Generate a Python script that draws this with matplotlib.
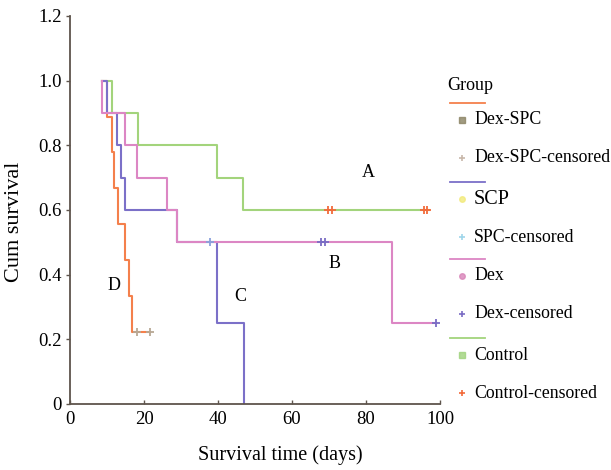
import numpy as np
import matplotlib
matplotlib.use('Agg')
import matplotlib.pyplot as plt
from matplotlib.lines import Line2D

plt.rcParams['font.family'] = ['Liberation Serif', 'DejaVu Serif']

# Kaplan-Meier steps: event times (days) and survival after each event
start_day = 8.7

dexspc_times = [10.0, 11.3, 11.9, 12.9, 14.9, 16.0, 16.8]
dexspc_surv = [0.889, 0.778, 0.667, 0.556, 0.444, 0.333, 0.222]
dexspc_end = 21.6
dexspc_cens = [18.2, 21.6]

scp_times = [9.9, 12.8, 13.8, 14.9, 29.0, 39.8, 46.9]
scp_surv = [0.9, 0.8, 0.7, 0.6, 0.5, 0.25, 0.0]
scp_end = 46.9
scp_cens = [37.8]

dex_times = [8.7, 14.9, 18.0, 26.1, 29.0, 86.9]
dex_surv = [0.9, 0.8, 0.7, 0.6, 0.5, 0.25]
dex_end = 98.8
dex_cens = [67.8, 69.0, 98.8]

ctrl_times = [11.4, 18.4, 39.8, 46.8]
ctrl_surv = [0.9, 0.8, 0.7, 0.6]
ctrl_end = 97.0
ctrl_cens = [69.8, 70.8, 95.6, 96.6]

letters = ['A', 'B', 'C', 'D']
letter_x = [80.5, 71.6, 45.9, 11.9]
letter_y = [0.717, 0.436, 0.331, 0.368]

c_orange = '#f4804c'
c_blue = '#7b70c8'
c_pink = '#dc86c4'
c_green = '#a3d47c'


def km_xy(times, surv, end):
    x = [start_day] + list(times) + [end]
    y = [1.0] + list(surv) + [surv[-1]]
    return x, y


def surv_at(times, surv, t):
    s = 1.0
    for ti, si in zip(times, surv):
        if ti <= t:
            s = si
    return s


W, H = 611, 470
fig = plt.figure(figsize=(W / 100, H / 100), dpi=100)
ax = fig.add_axes([70 / W, 1 - 404 / H, 370 / W, 388 / H])


def px(x, y):
    return x / W, 1 - y / H


groups = [
    (dexspc_times, dexspc_surv, dexspc_end, dexspc_cens, c_orange, '#b8a894'),
    (ctrl_times, ctrl_surv, ctrl_end, ctrl_cens, c_green, '#f26a3a'),
    (scp_times, scp_surv, scp_end, scp_cens, c_blue, '#8aa0dc'),
    (dex_times, dex_surv, dex_end, dex_cens, c_pink, '#7a6cc4'),
]
for times, surv, end, cens, col, ccol in groups:
    x, y = km_xy(times, surv, end)
    ax.step(x, y, where='post', color=col, lw=1.5)
for times, surv, end, cens, col, ccol in groups:
    cy = [surv_at(times, surv, c) for c in cens]
    ax.plot(cens, cy, ls='none', marker='+', ms=6, mew=1.3, color=ccol)

for lab, lx, ly in zip(letters, letter_x, letter_y):
    ax.text(lx, ly, lab, fontsize=13, ha='center', va='center')

ax.set_xlim(0, 100)
ax.set_ylim(0, 1.2)
ax.set_xticks([0, 20, 40, 60, 80, 100])
ax.set_yticks([0, 0.2, 0.4, 0.6, 0.8, 1.0, 1.2])
ax.set_yticklabels(['0', '0.2', '0.4', '0.6', '0.8', '1.0', '1.2'])
for s in ['top', 'right']:
    ax.spines[s].set_visible(False)
for s in ['left', 'bottom']:
    ax.spines[s].set_color('#5e544c')
    ax.spines[s].set_linewidth(1.3)
ax.tick_params(axis='both', colors='#5e544c', labelcolor='black', labelsize=13.5,
               length=3, width=1, pad=3)
ax.tick_params(axis='x', direction='in', pad=5)

fig.text(*px(15, 222), 'Cum survival', rotation=90, fontsize=16, ha='center', va='center')
fig.text(*px(280, 455), 'Survival time (days)', fontsize=14.5, ha='center', va='center')

# legend drawn by hand to keep the line / marker / censored layout
fig.text(*px(447, 85), 'Group', fontsize=13, ha='left', va='center')
leg_names = ['Dex-SPC', 'SCP', 'Dex', 'Control']
leg_cens = ['Dex-SPC-censored', 'SPC-censored', 'Dex-censored', 'Control-censored']
leg_line = [c_orange, c_blue, c_pink, c_green]
leg_mark = ['s', 'o', 'o', 's']
leg_mcol = ['#8a8262', '#f2ea7a', '#d884b8', '#9fd27c']
leg_ccol = ['#c8b8aa', '#9fd6ea', '#7a6cc4', '#f26a3a']
leg_size = [12.8, 14.5, 12.8, 12.8]
leg_top = [103, 182, 259, 338]
for name, cname, lc, mk, mc, cc, fs, top in zip(leg_names, leg_cens, leg_line, leg_mark,
                                                 leg_mcol, leg_ccol, leg_size, leg_top):
    x0, y0 = px(450, top)
    x1, _ = px(485, top)
    fig.add_artist(Line2D([x0, x1], [y0, y0], color=lc, lw=1.3, transform=fig.transFigure))
    mx, my = px(462, top + 17)
    fig.add_artist(Line2D([mx], [my], marker=mk, ms=4, color=mc, mfc=mc, alpha=0.8,
                          transform=fig.transFigure))
    fig.text(*px(474, top + 17), name, fontsize=fs, ha='left', va='center')
    cx, cy = px(462, top + 55)
    fig.add_artist(Line2D([cx], [cy], marker='+', ms=5, mew=1.2, color=cc,
                          transform=fig.transFigure))
    fig.text(*px(474, top + 55), cname, fontsize=12.8, ha='left', va='center')

fig.savefig('out.png', dpi=100)
